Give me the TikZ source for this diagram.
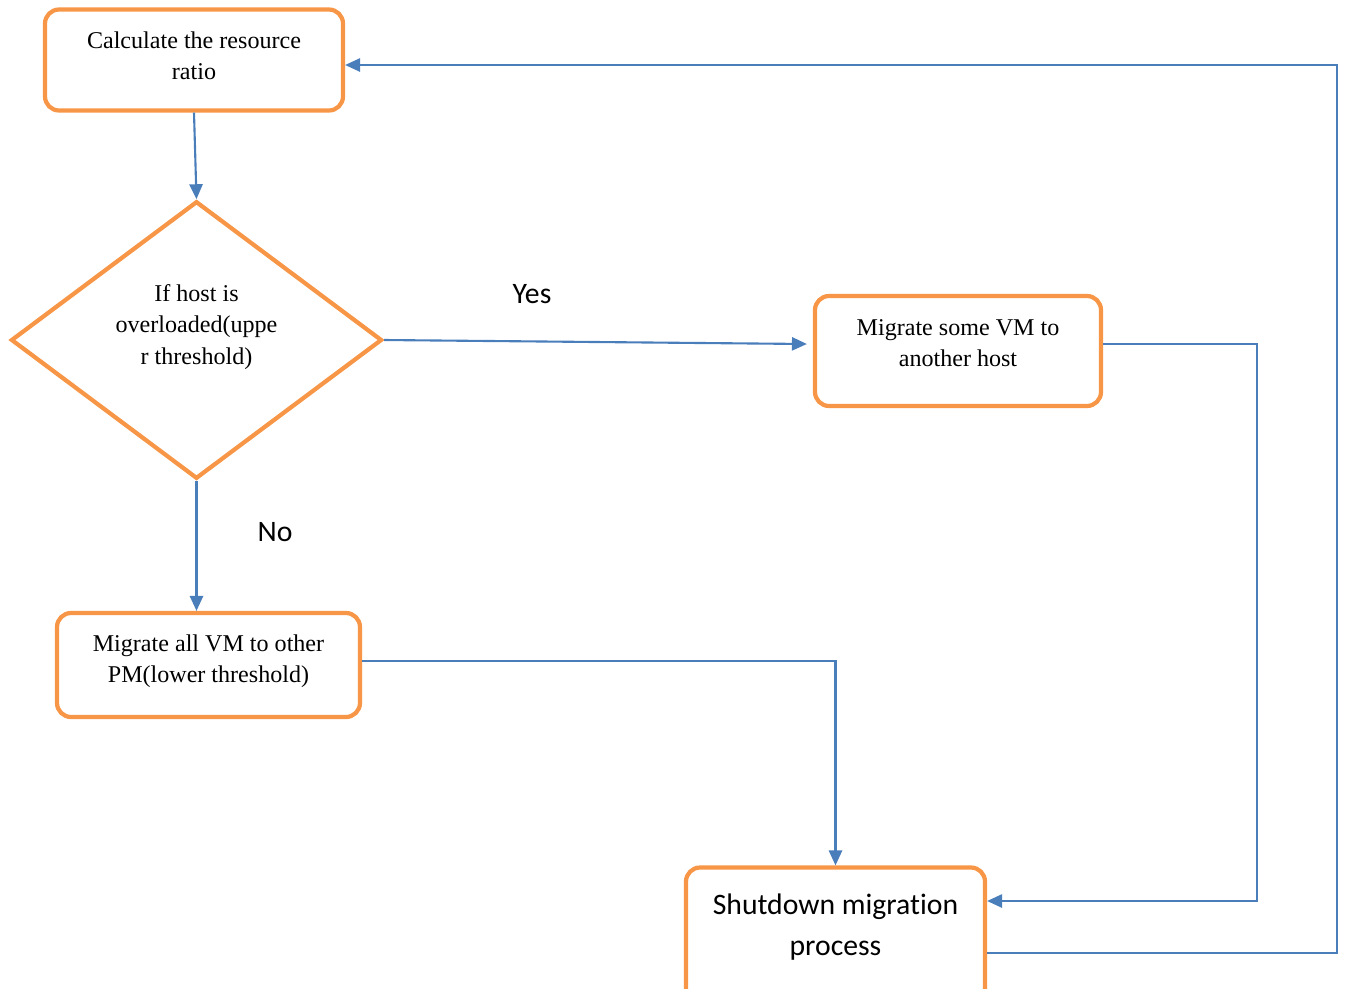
\documentclass[tikz,border=0pt]{standalone}
\usepackage{fontspec}
\setmainfont{Liberation Serif}
\newfontfamily\calibri[Ligatures=NoCommon]{Carlito}
\usetikzlibrary{shapes.geometric,arrows.meta}

\definecolor{boxorange}{HTML}{F79646}
\definecolor{lineblue}{HTML}{4A7EBB}

\begin{document}
\begin{tikzpicture}[
    procbox/.style={draw=boxorange, line width=2.4pt, rounded corners=8pt,
        align=center, inner sep=0pt, font=\fontsize{13.7}{17.8}\selectfont},
    decbox/.style={draw=boxorange, line width=2.4pt, shape=diamond, aspect=1.34,
        align=center, inner sep=0pt, minimum width=7.42cm, minimum height=5.55cm,
        font=\fontsize{13.7}{18.2}\selectfont},
    flow/.style={draw=lineblue, line width=1.2pt, -{Triangle[length=8.5pt,width=7.5pt]}},
    answer/.style={font=\calibri\fontsize{16.9}{20}\selectfont}]
    \useasboundingbox (0,0) rectangle (26.92,-19.76);

    \node[procbox, minimum width=5.96cm, minimum height=2.02cm, text depth=0.18cm] (calc) at (3.88,-1.2) {Calculate the resource\\ratio};
    \node[decbox, text depth=0.62cm] (dec) at (3.93,-6.8) {If host is\\overloaded(uppe\\r threshold)};
    \node[procbox, minimum width=5.72cm, minimum height=2.2cm, text depth=0.32cm] (some) at (19.16,-7.02) {Migrate some VM to\\another host};
    \node[procbox, minimum width=6.06cm, minimum height=2.08cm, text depth=0.25cm] (all) at (4.17,-13.3) {Migrate all VM to other\\PM(lower threshold)};
    \node[procbox, minimum width=5.98cm, minimum height=2.7cm, text depth=0.42cm,
        font=\calibri\fontsize{16.9}{23.2}\selectfont] (stop) at (16.71,-18.7) {Shutdown migration\\process};

    \node[answer] (yes) at (10.64,-5.88) {Yes};
    \node[answer] (no) at (5.5,-10.64) {No};

    \coordinate (rmid) at (25.14,-18.02);
    \coordinate (rback) at (26.74,-1.3);

    \draw[flow] (calc.south) -- (dec.north);
    \draw[flow] (dec.east) -- ([xshift=-0.12cm,yshift=0.14cm]some.west);
    \draw[flow] (dec.south) -- (dec.south |- all.north);
    \draw[flow] ([yshift=0.08cm]all.east) -| (stop.north);
    \draw[flow] ([yshift=0.14cm]some.east) -| (rmid) -- (rmid -| stop.east);
    \draw[flow] ([yshift=-0.36cm]stop.east) -| (rback) -- (rback -| calc.east);
\end{tikzpicture}
\end{document}
